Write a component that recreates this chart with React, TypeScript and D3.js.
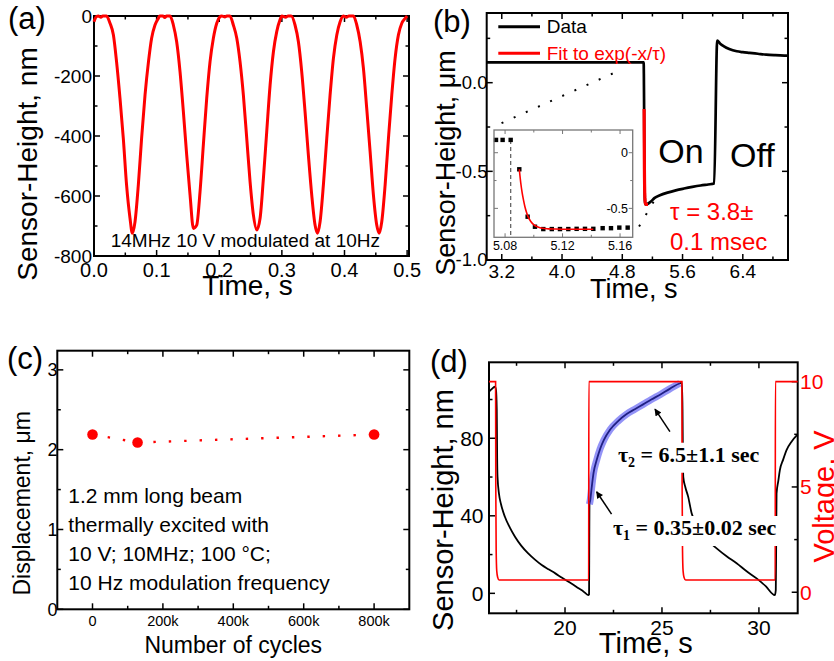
import React, { useEffect, useRef } from 'react';
import * as d3 from 'd3';

const SANS = '"Liberation Sans", Arial, Helvetica, sans-serif';
const SERIF = '"Liberation Serif", "Times New Roman", serif';
const RED = '#ff0000';

// (a) sensor height under 10 Hz modulation
const aTime = [0, 0.004, 0.007, 0.011, 0.014, 0.020, 0.0256, 0.031, 0.036, 0.0415, 0.0468, 0.052, 0.0575, 0.0612,
  0.0655, 0.0708, 0.076, 0.0815, 0.087, 0.092, 0.0974, 0.1027, 0.105, 0.110, 0.113, 0.116, 0.1214,
  0.1267, 0.132, 0.1374, 0.1427, 0.148, 0.1534, 0.1587, 0.164, 0.1693, 0.1746, 0.180, 0.1853, 0.1906, 0.196,
  0.201, 0.204, 0.209, 0.212, 0.217, 0.2225, 0.228, 0.2332, 0.2385, 0.2439, 0.2492, 0.2545, 0.2599,
  0.2652, 0.2705, 0.2758, 0.2812, 0.2865, 0.2918, 0.297, 0.300, 0.306, 0.310, 0.315,
  0.321, 0.3264, 0.3317, 0.337, 0.3423, 0.3477, 0.353, 0.3567, 0.361, 0.3663, 0.3717, 0.377, 0.3823, 0.3877, 0.393,
  0.398, 0.403, 0.407, 0.4143, 0.4196, 0.425, 0.4302, 0.4355, 0.4409, 0.4462, 0.4515, 0.4553,
  0.4595, 0.4649, 0.4702, 0.4755, 0.4808, 0.4861, 0.4915, 0.4968, 0.500];
const aHeight = [-19, -2, 0, -4, 0, 0, -24, -63, -152, -274, -408, -563, -674, -724,
  -686, -563, -408, -263, -152, -74, -30, -8, 0, 0, -5, 0, 0,
  -30, -86, -186, -319, -463, -597, -708, -697, -586, -430, -274, -152, -74, -24,
  -3, 0, -3, 0, 0, -30, -74, -152, -263, -408, -552, -663, -713,
  -674, -541, -386, -230, -119, -52, -13, 0, -4, 0, 0,
  -30, -86, -186, -319, -463, -597, -697, -724, -686, -563, -408, -263, -141, -63, -19,
  0, -4, 0, 0, -30, -86, -174, -308, -452, -597, -697, -724,
  -686, -563, -408, -263, -141, -63, -24, -8, 0];
const aXTicks = [0, 0.1, 0.2, 0.3, 0.4, 0.5];
const aXMinor = [0.05, 0.15, 0.25, 0.35, 0.45];
const aYTicks = [-800, -600, -400, -200, 0];
const aYMinor = [-700, -500, -300, -100];

// (b) step response
const bTime = [3.0, 5.0737, 5.0783, 5.0839, 5.0899, 5.0957, 5.1008, 5.1066, 5.12, 5.15, 5.18, 5.23, 5.30, 5.40,
  5.51, 5.62, 5.73, 5.84, 5.94, 6.02, 6.06, 6.1, 6.15, 6.22, 6.32, 6.4, 6.49, 6.6, 6.71, 6.83, 6.95, 7.0];
const bHeight = [0.115, 0.115, 0.115, 0.115, -0.149, -0.575, -0.665, -0.686, -0.686, -0.68, -0.670, -0.65, -0.635, -0.62,
  -0.607, -0.597, -0.588, -0.58, -0.574, -0.569, 0.238, 0.22, 0.205, 0.19, 0.177, 0.172, 0.168, 0.163, 0.158, 0.155, 0.153, 0.152];
const bFitTime = [5.0899, 5.0909, 5.0919, 5.0929, 5.0939, 5.0949, 5.0959, 5.0979, 5.0999, 5.1029, 5.1059, 5.1099,
  5.1149, 5.1199, 5.1299, 5.1414];
const bFitHeight = [-0.149, -0.27, -0.36, -0.43, -0.49, -0.535, -0.572, -0.618, -0.647, -0.668, -0.679, -0.684,
  -0.686, -0.687, -0.687, -0.687];
const bInsetTime = [5.0737, 5.0783, 5.0839, 5.0899, 5.0957, 5.1008, 5.1066, 5.1125, 5.1182, 5.124, 5.1298, 5.1356,
  5.1414, 5.1479, 5.1537, 5.1595, 5.1653];
const bInsetHeight = [0.115, 0.115, 0.115, -0.149, -0.575, -0.665, -0.686, -0.686, -0.686, -0.686, -0.684, -0.684,
  -0.684, -0.678, -0.678, -0.673, -0.673];
const bXTicks = [3.2, 4.0, 4.8, 5.6, 6.4];
const bXMinor = [3.6, 4.4, 5.2, 6.0, 6.8];
const bYTicks = [-1.0, -0.5, 0.0];
const bYMinor = [-0.75, -0.25, 0.25];
const insXTicks = [5.08, 5.12, 5.16];
const insXMinor = [5.10, 5.14];
const insYTicks = [-0.5, 0];
const insYMinor = [-0.25];
const bDotA = [[3.197, -0.228], [4.79, 0.074]];
const bDotB = [[5.023, -0.811], [5.233, -0.659]];

// (c) displacement vs number of cycles
const cCycles = [0, 128000, 800000];
const cDisp = [2.19, 2.09, 2.19];
const cXTicks = [0, 200000, 400000, 600000, 800000];
const cXMinor = [100000, 300000, 500000, 700000];
const cYTicks = [0, 1, 2, 3];
const cYMinor = [0.5, 1.5, 2.5];
const cNote = ['1.2 mm long beam', 'thermally excited with', '10 V; 10MHz; 100 °C;', '10 Hz modulation frequency'];

// (d) sensor height and heater voltage
const dTime = [16.08, 16.2, 16.39, 16.44, 16.48, 16.5, 16.52, 16.6, 16.7, 16.9, 17.15, 17.42, 17.75, 18.1, 18.45,
  18.8, 19.15, 19.5, 19.85, 20.18, 20.45, 20.7, 20.95, 21.2, 21.24, 21.25, 21.26, 21.3, 21.38, 21.47, 21.64,
  21.81, 22.0, 22.33, 22.75, 23.18, 23.6, 24.03, 24.45, 24.9, 25.4, 25.93, 26.03, 26.06, 26.08, 26.1, 26.2,
  26.35, 26.53, 26.8, 27.3, 27.82, 28.35, 28.85, 29.35, 29.88, 30.35, 30.82, 30.87, 30.89, 30.91, 31.0, 31.08,
  31.25, 31.43, 31.7, 32.0];
const dHeight = [104, 105.2, 106.6, 105, 95, 70, 60, 51, 46, 39.5, 34, 29.2, 24.5, 20.6, 17.4,
  14.6, 12.4, 10.3, 8, 6, 4.3, 2.6, 1, -0.9, -0.5, 20, 46, 48, 55, 62, 69,
  74.5, 79, 84.5, 89, 92.5, 95, 97.5, 100, 102.5, 105.5, 108.4, 108.7, 95, 70, 60, 55,
  49.9, 41.3, 35, 28, 23.2, 19, 15.5, 11.5, 7.7, 3.7, -0.9, 1.7, 25, 51.6, 58, 63.6,
  69, 74, 78.5, 82];
const dFitTime = [21.26, 21.3, 21.38, 21.47, 21.64, 21.81, 22.0, 22.33, 22.75, 23.18, 23.6, 24.03, 24.45, 24.9, 25.4, 25.93];
const dFitHeight = [46, 48, 55, 62, 69, 74.5, 79, 84.5, 89, 92.5, 95, 97.5, 100, 102.5, 105.5, 108.4];
const dVTime = [16.08, 16.42, 16.43, 16.45, 16.48, 16.53, 16.6, 21.22, 21.23, 26.03, 26.04, 26.06, 26.09, 26.14, 26.22, 30.84, 30.85, 32.0];
const dVolt = [10, 10, 5, 2, 1, 0.7, 0.58, 0.58, 10, 10, 5, 2, 1, 0.7, 0.58, 0.58, 10, 10];
const dXTicks = [20, 25, 30];
const dXMinor = [17.5, 22.5, 27.5];
const dYTicks = [0, 40, 80];
const dYMinor = [20, 60, 100];
const dVTicks = [0, 5, 10];
const dVMinor = [2.5, 7.5];
// annotation arrows: [tail, tip] in data units
const dArrow2 = [[25.41, 83.4], [24.64, 95]];
const dArrow1 = [[22.4, 40.9], [21.63, 52.4]];

type Sel = d3.Selection<any, unknown, null, undefined>;

function txt(g: Sel, s: string, x: number, y: number, size: number, o: any = {}) {
  return g.append('text')
    .attr('x', x).attr('y', y)
    .attr('dy', o.dy || null)
    .attr('font-size', size)
    .attr('font-family', o.family || SANS)
    .attr('font-weight', o.weight || 'normal')
    .attr('fill', o.fill || '#000')
    .attr('text-anchor', o.anchor || 'start')
    .text(s);
}

function vtxt(g: Sel, s: string, x: number, y: number, size: number, fill = '#000') {
  return g.append('text')
    .attr('transform', `translate(${x},${y}) rotate(-90)`)
    .attr('text-anchor', 'middle')
    .attr('font-size', size)
    .attr('font-family', SANS)
    .attr('fill', fill)
    .text(s);
}

// Origin-like box with inward ticks on all four sides
function frame(g: Sel, x: any, y: any, xt: number[], xm: number[], yt: number[], ym: number[], o: any = {}) {
  const [x0, x1] = x.range();
  const [yb, yTop] = y.range();
  const stroke = o.stroke || '#000';
  const maj = o.major ?? 6;
  const min = o.minor ?? 3.5;
  const tw = o.tickWidth ?? 1.5;
  const ln = (a: number, b: number, c: number, d: number) =>
    g.append('line').attr('x1', a).attr('y1', b).attr('x2', c).attr('y2', d)
      .attr('stroke', stroke).attr('stroke-width', tw);
  xt.forEach(v => { ln(x(v), yb, x(v), yb - maj); ln(x(v), yTop, x(v), yTop + maj); });
  xm.forEach(v => { ln(x(v), yb, x(v), yb - min); ln(x(v), yTop, x(v), yTop + min); });
  const yr = o.yr || y;
  const yrt = o.yrt || yt;
  const yrm = o.yrm || ym;
  yt.forEach(v => ln(x0, y(v), x0 + maj, y(v)));
  ym.forEach(v => ln(x0, y(v), x0 + min, y(v)));
  yrt.forEach((v: number) => ln(x1, yr(v), x1 - maj, yr(v)));
  yrm.forEach((v: number) => ln(x1, yr(v), x1 - min, yr(v)));
  g.append('rect')
    .attr('x', x0).attr('y', yTop)
    .attr('width', x1 - x0).attr('height', yb - yTop)
    .attr('fill', 'none').attr('stroke', stroke).attr('stroke-width', o.width ?? 2);
}

function series(xs: number[], ys: number[], x: any, y: any, curve: any = d3.curveLinear) {
  return d3.line<number>().x((_, i) => x(xs[i])).y(d => y(d)).curve(curve)(ys);
}

function drawA(g: Sel) {
  const x = d3.scaleLinear().domain([0, 0.503]).range([94, 409]);
  const y = d3.scaleLinear().domain([-800, 0]).range([256, 16]);
  frame(g, x, y, aXTicks, aXMinor, aYTicks, aYMinor);
  g.append('path').attr('d', series(aTime, aHeight, x, y, d3.curveMonotoneX))
    .attr('fill', 'none').attr('stroke', RED).attr('stroke-width', 3).attr('stroke-linejoin', 'round');
  aXTicks.forEach(v => txt(g, v.toFixed(1), x(v), 276.7, 20, { anchor: 'middle' }));
  aYTicks.forEach(v => txt(g, String(v), 92, y(v), 19, { anchor: 'end', dy: '0.35em' }));
  txt(g, '14MHz 10 V modulated at 10Hz', 110.7, 246.7, 19);
  txt(g, 'Time, s', 247.5, 295, 28, { anchor: 'middle' });
  vtxt(g, 'Sensor-Height, nm', 37, 164, 28);
  txt(g, '(a)', 8, 28.5, 31);
}

function drawB(g: Sel) {
  const x = d3.scaleLinear().domain([3.0, 7.0]).range([486.7, 788]);
  const y = d3.scaleLinear().domain([-1.0, 0.393]).range([260, 13]);
  frame(g, x, y, bXTicks, bXMinor, bYTicks, bYMinor);

  [bDotA, bDotB].forEach(p => {
    g.append('line')
      .attr('x1', x(p[0][0])).attr('y1', y(p[0][1]))
      .attr('x2', x(p[1][0])).attr('y2', y(p[1][1]))
      .attr('stroke', '#000').attr('stroke-width', 2).attr('stroke-dasharray', '2,11.3');
  });

  g.append('path').attr('d', series(bTime, bHeight, x, y, d3.curveMonotoneX))
    .attr('fill', 'none').attr('stroke', '#000').attr('stroke-width', 2.7);
  g.append('path').attr('d', series(bFitTime, bFitHeight, x, y))
    .attr('fill', 'none').attr('stroke', RED).attr('stroke-width', 3.2);

  // inset
  const ix = d3.scaleLinear().domain([5.0723, 5.1688]).range([494, 632.7]);
  const iy = d3.scaleLinear().domain([-0.76, 0.204]).range([237.3, 130]);
  const ig = g.append('g');
  ig.append('rect').attr('x', 494).attr('y', 130).attr('width', 632.7 - 494).attr('height', 237.3 - 130)
    .attr('fill', '#fff');
  ig.append('line')
    .attr('x1', ix(bInsetTime[2])).attr('x2', ix(bInsetTime[2]))
    .attr('y1', iy(bInsetHeight[2])).attr('y2', iy(-0.76))
    .attr('stroke', '#666').attr('stroke-width', 1.3).attr('stroke-dasharray', '4,3');
  ig.selectAll('rect.sq').data(bInsetHeight).enter().append('rect')
    .attr('class', 'sq')
    .attr('x', (_, i) => ix(bInsetTime[i]) - 2.2).attr('y', d => iy(d) - 2.2)
    .attr('width', 4.4).attr('height', 4.4).attr('fill', '#000');
  ig.append('path').attr('d', series(bFitTime, bFitHeight, ix, iy, d3.curveMonotoneX))
    .attr('fill', 'none').attr('stroke', RED).attr('stroke-width', 1.6);
  frame(ig, ix, iy, insXTicks, insXMinor, insYTicks, insYMinor,
    { stroke: '#777', width: 1.3, major: 4, minor: 2.5, tickWidth: 1 });
  insXTicks.forEach(v => txt(ig, v.toFixed(2), ix(v), 250, 12.5, { anchor: 'middle' }));
  insYTicks.forEach(v => txt(ig, String(v), 628, iy(v), 12.5, { anchor: 'end', dy: '0.35em' }));

  // legend
  g.append('line').attr('x1', 498.3).attr('x2', 540).attr('y1', 26.7).attr('y2', 26.7)
    .attr('stroke', '#000').attr('stroke-width', 3);
  txt(g, 'Data', 546.7, 33.3, 19);
  g.append('line').attr('x1', 498.3).attr('x2', 540).attr('y1', 53.3).attr('y2', 53.3)
    .attr('stroke', RED).attr('stroke-width', 3);
  txt(g, 'Fit to exp(-x/τ)', 546.7, 60, 19, { fill: RED });

  txt(g, 'On', 658.3, 163.3, 34);
  txt(g, 'Off', 730, 166.7, 34);
  txt(g, 'τ = 3.8±', 670, 220, 24, { fill: RED });
  txt(g, '0.1 msec', 670, 250, 24, { fill: RED });

  bXTicks.forEach(v => txt(g, v.toFixed(1), x(v), 278, 19, { anchor: 'middle' }));
  bYTicks.forEach(v => txt(g, v.toFixed(1), 487.5, y(v), 18.5, { anchor: 'end', dy: '0.35em' }));
  txt(g, 'Time, s', 633.8, 298.3, 27, { anchor: 'middle' });
  vtxt(g, 'Sensor-Height, μm', 454.5, 163, 27);
  txt(g, '(b)', 433, 31.8, 31);
}

function drawC(g: Sel) {
  const x = d3.scaleLinear().domain([-100000, 900000]).range([57.3, 409.3]);
  const y = d3.scaleLinear().domain([0, 3.24]).range([609.3, 350.7]);
  frame(g, x, y, cXTicks, cXMinor, cYTicks, cYMinor);
  g.append('path').attr('d', series(cCycles, cDisp, x, y))
    .attr('fill', 'none').attr('stroke', RED).attr('stroke-width', 2.4).attr('stroke-dasharray', '2.4,13');
  g.selectAll('circle.pt').data(cDisp).enter().append('circle')
    .attr('class', 'pt')
    .attr('cx', (_, i) => x(cCycles[i])).attr('cy', d => y(d)).attr('r', 5.3).attr('fill', RED);
  cNote.forEach((s, i) => txt(g, s, 68.3, 503.3 + i * 29, 21));
  cXTicks.forEach(v => txt(g, v === 0 ? '0' : `${v / 1000}k`, x(v), 626, 14.5, { anchor: 'middle' }));
  cYTicks.forEach(v => txt(g, String(v), 57.5, y(v), 18, { anchor: 'end', dy: '0.35em' }));
  txt(g, 'Number of cycles', 233.3, 652.7, 23, { anchor: 'middle' });
  vtxt(g, 'Displacement, μm', 30, 503.3, 23);
  txt(g, '(c)', 7, 368.5, 31);
}

function drawD(g: Sel) {
  const x = d3.scaleLinear().domain([16.08, 32.0]).range([489, 797.7]);
  const y = d3.scaleLinear().domain([-10.3, 119.2]).range([613.3, 362.3]);
  const yv = d3.scaleLinear().domain([-1.0, 10.92]).range([613.3, 362.3]);
  frame(g, x, y, dXTicks, dXMinor, dYTicks, dYMinor, { yr: yv, yrt: dVTicks, yrm: dVMinor });

  g.append('path').attr('d', series(dTime, dHeight, x, y, d3.curveMonotoneX))
    .attr('fill', 'none').attr('stroke', '#000').attr('stroke-width', 1.8);
  g.append('path').attr('d', series(dFitTime, dFitHeight, x, y, d3.curveMonotoneX))
    .attr('fill', 'none').attr('stroke', '#3a3af0').attr('stroke-opacity', 0.55)
    .attr('stroke-width', 7).attr('stroke-linecap', 'butt');
  g.append('path').attr('d', series(dVTime, dVolt, x, yv, d3.curveMonotoneX))
    .attr('fill', 'none').attr('stroke', RED).attr('stroke-width', 1.6);

  const defs = g.append('defs');
  defs.append('marker').attr('id', 'arrowD').attr('viewBox', '0 0 10 10')
    .attr('refX', 9).attr('refY', 5).attr('markerWidth', 9).attr('markerHeight', 7)
    .attr('markerUnits', 'userSpaceOnUse').attr('orient', 'auto')
    .append('path').attr('d', 'M0,0 L10,5 L0,10 z').attr('fill', '#000');

  const label = (sub: string, rest: string, tx: number, ty: number) => {
    const t = g.append('text').attr('x', x(tx)).attr('y', y(ty))
      .attr('font-family', SERIF).attr('font-weight', 'bold').attr('font-size', 22).attr('fill', '#000');
    t.append('tspan').text('τ');
    t.append('tspan').attr('font-size', 14).attr('dy', 5).text(sub);
    t.append('tspan').attr('dy', -5).text(rest);
    const bb = (t.node() as SVGTextElement).getBBox();
    g.insert('rect', () => t.node() as any)
      .attr('x', bb.x - 4).attr('y', bb.y + 1).attr('width', bb.width + 8).attr('height', bb.height + 2)
      .attr('fill', '#fff');
  };
  label('2', ' = 6.5±1.1 sec', 22.73, 67.9);
  label('1', ' = 0.35±0.02 sec', 22.47, 30.1);

  [dArrow2, dArrow1].forEach(a => {
    g.append('line')
      .attr('x1', x(a[0][0])).attr('y1', y(a[0][1]))
      .attr('x2', x(a[1][0])).attr('y2', y(a[1][1]))
      .attr('stroke', '#000').attr('stroke-width', 1.5).attr('marker-end', 'url(#arrowD)');
  });

  dXTicks.forEach(v => txt(g, String(v), x(v), 635, 21, { anchor: 'middle' }));
  dYTicks.forEach(v => txt(g, String(v), 483.5, y(v), 21, { anchor: 'end', dy: '0.35em' }));
  dVTicks.forEach(v => txt(g, String(v), 800, yv(v), 21, { dy: '0.35em', fill: RED }));
  txt(g, 'Time, s', 645.8, 652.7, 29, { anchor: 'middle' });
  vtxt(g, 'Sensor-Height, nm', 452.5, 510, 29);
  vtxt(g, 'Voltage, V', 834, 496.4, 29, RED);
  txt(g, '(d)', 430, 372, 31);
}

export default function App() {
  const svgRef = useRef<SVGSVGElement>(null);

  useEffect(() => {
    const svg = d3.select(svgRef.current);
    svg.selectAll('*').remove();
    drawA(svg.append('g'));
    drawB(svg.append('g'));
    drawC(svg.append('g'));
    drawD(svg.append('g'));
  }, []);

  return (
    <svg
      ref={svgRef}
      width={834}
      height={661}
      style={{ position: 'absolute', left: 0, top: 0, background: '#fff' }}
    />
  );
}
